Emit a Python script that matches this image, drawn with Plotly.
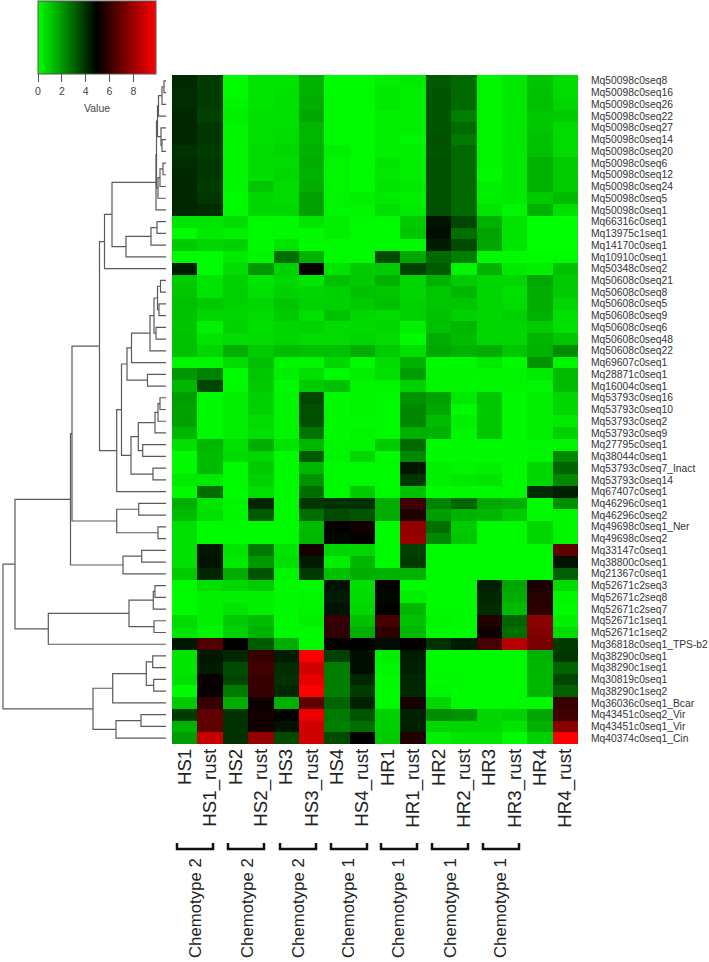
import plotly.graph_objects as go

W, H = 709, 962

columns = ["HS1","HS1_rust","HS2","HS2_rust","HS3","HS3_rust","HS4","HS4_rust",
           "HR1","HR1_rust","HR2","HR2_rust","HR3","HR3_rust","HR4","HR4_rust"]

genes = ["Mq50098c0seq8","Mq50098c0seq16","Mq50098c0seq26","Mq50098c0seq22","Mq50098c0seq27","Mq50098c0seq14",
         "Mq50098c0seq20","Mq50098c0seq6","Mq50098c0seq12","Mq50098c0seq24","Mq50098c0seq5","Mq50098c0seq1",
         "Mq66316c0seq1","Mq13975c1seq1","Mq14170c0seq1","Mq10910c0seq1","Mq50348c0seq2",
         "Mq50608c0seq21","Mq50608c0seq8","Mq50608c0seq5","Mq50608c0seq9","Mq50608c0seq6","Mq50608c0seq48","Mq50608c0seq22",
         "Mq69607c0seq1","Mq28871c0seq1","Mq16004c0seq1","Mq53793c0seq16","Mq53793c0seq10","Mq53793c0seq2","Mq53793c0seq9",
         "Mq27795c0seq1","Mq38044c0seq1","Mq53793c0seq7_Inact","Mq53793c0seq14","Mq67407c0seq1",
         "Mq46296c0seq1","Mq46296c0seq2","Mq49698c0seq1_Ner","Mq49698c0seq2",
         "Mq33147c0seq1","Mq38800c0seq1","Mq21367c0seq1",
         "Mq52671c2seq3","Mq52671c2seq8","Mq52671c2seq7","Mq52671c1seq1","Mq52671c1seq2",
         "Mq36818c0seq1_TPS-b2","Mq38290c0seq1","Mq38290c1seq1","Mq30819c0seq1","Mq38290c1seq2",
         "Mq36036c0seq1_Bcar","Mq43451c0seq2_Vir","Mq43451c0seq1_Vir","Mq40374c0seq1_Cin"]

values = [
 [4.2,3.8,0.1,0.5,0.5,1.5,0.1,0.1,0.3,0.4,3.2,2.9,0.2,0.4,1.1,0.7],
 [4.1,3.8,0.1,0.5,0.6,1.5,0.1,0.1,0.4,0.3,3.3,2.9,0.2,0.4,1.2,0.7],
 [4.1,3.8,0.2,0.5,0.6,1.6,0.1,0.1,0.4,0.3,3.3,2.9,0.2,0.4,1.2,0.8],
 [4.2,3.7,0.3,0.6,0.6,1.7,0.1,0.1,0.3,0.3,3.3,2.5,0.2,0.4,1.1,1.0],
 [4.2,3.9,0.2,0.6,0.6,1.4,0.1,0.1,0.3,0.3,3.3,2.9,0.2,0.4,1.1,0.7],
 [4.2,3.9,0.2,0.6,0.7,1.4,0.1,0.1,0.3,0.2,3.4,2.6,0.2,0.4,1.2,0.7],
 [4.0,3.8,0.2,0.7,0.8,1.5,0.3,0.1,0.3,0.3,3.3,2.9,0.2,0.4,1.2,0.7],
 [4.1,3.9,0.2,0.7,0.7,1.6,0.2,0.1,0.5,0.3,3.4,2.9,0.2,0.4,1.5,1.0],
 [4.2,3.9,0.2,0.6,0.8,1.5,0.2,0.1,0.4,0.3,3.4,2.9,0.1,0.4,1.5,1.0],
 [4.2,3.8,0.2,1.1,0.7,1.6,0.2,0.1,0.5,0.4,3.4,2.9,0.3,0.4,1.5,1.0],
 [4.2,3.9,0.1,0.8,0.7,1.8,0.2,0.3,0.4,0.3,3.4,2.9,0.3,0.4,1.0,1.3],
 [4.2,4.1,0.1,0.8,0.8,1.8,0.2,0.2,0.6,0.4,3.4,2.9,0.5,0.2,1.5,0.6],
 [0.5,0.5,0.7,0.1,0.1,0.5,0.3,0.1,0.1,1.0,4.6,3.6,1.5,0.5,0.0,0.0],
 [0.05,0.4,0.3,0.1,0.1,0.1,0.3,0.1,0.1,1.1,4.7,2.8,1.8,0.5,0.0,0.0],
 [1.0,0.8,0.9,0.1,0.5,0.1,0.1,0.1,0.1,0.1,4.4,3.5,1.7,0.5,0.0,0.0],
 [0.1,0.05,0.4,0.2,2.8,1.5,0.1,0.1,3.5,1.7,2.9,2.5,0.1,0.1,0.1,0.1],
 [4.4,0.05,0.7,2.0,0.9,5.0,0.5,1.0,1.0,3.7,3.2,0.2,1.5,0.4,0.3,1.2],
 [1.0,0.5,0.9,0.5,0.8,0.5,1.2,1.0,1.5,0.8,1.5,1.0,0.8,0.8,1.7,1.0],
 [1.1,0.5,0.9,0.6,0.9,0.8,0.9,1.2,1.1,0.8,1.1,1.4,0.8,0.6,1.6,1.0],
 [1.2,1.0,0.9,0.8,1.1,0.9,0.9,1.0,1.2,0.9,1.1,1.1,0.8,0.7,1.6,0.8],
 [1.2,0.8,0.8,0.7,1.0,0.6,1.2,0.8,0.7,0.9,1.2,0.9,0.8,0.9,1.5,0.6],
 [1.1,0.3,0.9,0.6,0.8,0.9,0.7,0.7,0.8,0.3,1.2,1.4,0.8,0.8,1.0,0.6],
 [1.2,0.5,0.7,0.7,0.8,0.7,0.7,0.8,0.7,0.1,1.6,1.3,0.8,0.8,1.4,1.1],
 [1.2,0.8,1.6,1.0,1.3,1.2,1.2,1.6,1.0,0.6,1.7,1.5,1.6,1.1,1.5,2.2],
 [0.2,0.2,0.7,1.2,0.2,0.2,0.8,0.1,0.7,1.5,0.1,0.1,0.4,0.1,2.1,0.2],
 [2.0,2.4,0.1,1.1,0.3,0.6,0.1,0.3,0.6,1.9,0.2,0.2,0.2,0.2,0.4,1.3],
 [1.4,3.6,0.1,1.0,0.1,1.0,1.2,0.2,0.2,0.9,0.2,0.2,0.2,0.2,0.2,1.3],
 [1.9,0.1,0.3,0.9,0.2,3.6,0.1,0.2,0.1,2.1,1.8,0.4,1.1,0.1,0.3,0.8],
 [1.8,0.1,0.3,0.9,0.2,3.4,0.1,0.2,0.1,2.3,1.7,0.1,1.1,0.1,0.3,0.8],
 [1.8,0.1,0.3,0.7,0.2,3.4,0.1,0.1,0.1,2.3,1.3,0.3,1.1,0.1,0.3,0.4],
 [1.4,0.1,0.3,0.6,0.2,2.7,0.1,0.2,0.1,1.5,1.5,0.2,1.1,0.1,0.3,0.9],
 [0.6,1.4,0.6,1.6,0.5,1.4,0.2,0.2,1.0,2.9,0.1,0.1,0.1,0.1,0.2,0.2],
 [0.1,1.3,0.7,0.8,0.1,3.2,0.2,0.8,0.1,2.3,0.1,0.1,0.1,0.1,0.2,2.3],
 [0.1,1.3,0.1,1.0,0.1,1.4,0.1,0.1,0.1,4.5,0.3,0.2,0.3,0.1,0.8,3.0],
 [0.4,0.4,0.1,0.9,0.1,2.1,0.1,0.1,0.1,3.9,0.3,0.4,0.5,0.1,0.8,2.3],
 [0.1,2.8,0.1,0.6,0.1,2.8,0.1,1.0,0.1,1.2,0.1,0.1,0.1,0.1,4.1,4.3],
 [1.6,0.5,0.2,4.2,0.1,3.9,4.0,4.0,1.6,6.2,2.4,3.0,1.7,1.6,0.1,2.2],
 [1.3,0.6,0.2,3.2,0.1,2.8,3.5,3.3,1.6,5.6,1.9,1.5,1.4,1.0,0.1,0.2],
 [0.6,0.1,0.1,0.1,0.1,1.3,5.0,5.3,0.1,7.8,2.8,1.0,0.1,0.1,0.8,0.2],
 [0.6,0.1,0.1,0.1,0.1,1.4,4.8,5.0,0.1,7.9,2.3,1.1,0.1,0.1,0.8,0.2],
 [0.6,4.5,0.5,2.6,0.5,5.4,0.8,0.8,0.1,3.7,0.1,0.1,0.1,0.1,0.1,6.8],
 [0.6,4.6,0.4,2.0,0.6,4.4,0.3,1.4,0.1,3.8,0.1,0.1,0.1,0.1,0.1,4.6],
 [1.0,4.2,1.6,3.3,0.2,3.8,1.2,1.6,1.5,1.5,0.1,0.1,0.1,0.1,0.1,3.1],
 [0.1,0.6,0.8,1.0,0.1,0.1,4.6,0.6,5.0,0.1,0.1,0.1,4.3,1.7,5.5,0.7],
 [0.1,0.3,0.3,0.3,0.1,0.2,4.4,0.7,4.8,0.3,0.1,0.1,4.2,1.6,5.7,0.2],
 [0.1,0.3,0.5,0.3,0.1,0.2,4.6,0.8,5.0,1.4,0.1,0.1,4.1,1.3,5.8,0.1],
 [0.7,0.3,1.0,1.3,0.1,0.3,6.0,1.2,6.3,1.2,0.2,0.1,5.6,3.0,7.6,0.3],
 [0.5,0.2,0.9,1.5,0.1,0.1,5.9,1.6,5.8,1.4,0.1,0.1,5.2,2.8,7.5,0.7],
 [4.5,6.5,5.0,3.2,1.6,0.1,5.0,5.0,4.7,5.0,4.0,4.4,6.3,8.5,7.3,3.8],
 [0.5,4.5,4.2,6.0,4.4,9.8,3.7,4.7,0.3,4.4,0.1,0.1,0.1,0.1,1.5,3.9],
 [0.5,4.4,3.5,6.2,4.1,9.0,2.5,4.7,0.2,4.3,0.1,0.1,0.1,0.1,1.4,3.0],
 [0.6,5.1,3.6,6.0,4.0,9.4,2.5,4.2,0.1,4.2,0.1,0.1,0.1,0.1,1.4,3.6],
 [0.1,5.1,2.6,6.0,4.2,9.9,2.5,3.8,0.1,4.2,0.2,0.1,0.1,0.1,1.4,3.1],
 [1.0,6.0,1.6,5.2,1.5,6.8,3.0,4.3,0.1,5.4,0.8,0.1,0.1,0.1,0.1,6.0],
 [3.8,6.8,4.0,5.3,4.9,9.5,2.6,3.3,0.9,4.3,2.2,2.1,0.8,0.9,1.7,6.2],
 [1.5,6.8,4.0,5.3,4.6,9.0,2.5,2.8,0.9,4.3,0.8,0.8,0.8,0.5,1.5,7.6],
 [1.9,8.8,4.0,7.8,3.5,9.0,3.5,5.0,1.0,5.6,0.3,0.5,0.5,0.1,0.9,9.8],
]

# Row dendrogram: leaves are rows 0..56; merge k creates node 57+k
merge_left = [0,57,58,5,4,59,7,63,64,62,66,12,68,69,67,71,
              17,19,73,21,75,77,78,25,79,27,82,83,31,84,33,86,81,89,72,
              36,38,92,91,40,96,95,43,99,46,100,102,98,49,51,105,107,54,109,108,104]
merge_right = [1,2,3,6,60,61,8,9,10,65,11,13,14,15,70,16,
               18,20,74,22,76,23,24,26,80,28,29,30,32,85,34,87,88,35,90,
               37,39,93,94,41,42,97,44,45,47,101,48,103,50,52,106,53,55,56,110,111]
merge_height = [2,4,7.5,4,5,8.5,3,6,8,9.5,10,9,15,40,54,61.5,
                5.5,7,8.5,10,12,16,34.5,18.5,39,6,8,11,23.3,27.7,13,35,44.5,49.3,66.5,
                27.3,8,49.3,94,24.3,43,95.5,11,12.7,12,37,117.7,151,13.3,12.3,19.7,53.3,25,50,73,163]

chemotypes = ["Chemotype 2","Chemotype 2","Chemotype 2","Chemotype 1","Chemotype 1","Chemotype 1","Chemotype 1"]

# ---- layout constants (pixels)
HM_L, HM_R, HM_T, HM_B = 172, 578, 75, 744
DEND_R = 166
BR_L = [177, 228, 280, 331, 381, 432, 483]
BR_R = [213, 264, 316, 367, 417, 468, 519]
CH_X = [195, 247, 298, 348, 398, 450, 500]
px = lambda v: v / W
py = lambda v: 1 - v / H

n = len(genes)
pos_y = {i: float(i) for i in range(n)}
pos_h = {i: 0.0 for i in range(n)}
dx, dy = [], []
for k, (a, b, h) in enumerate(zip(merge_left, merge_right, merge_height)):
    dx += [pos_h[a], h, h, pos_h[b], None]
    dy += [pos_y[a], pos_y[a], pos_y[b], pos_y[b], None]
    pos_y[n + k] = (pos_y[a] + pos_y[b]) / 2
    pos_h[n + k] = h

fig = go.Figure()
fig.add_trace(go.Heatmap(
    z=values, x=list(range(len(columns))), y=list(range(n)),
    zmin=0, zmax=9.9,
    colorscale=[[0, "rgb(0,255,0)"], [0.5, "rgb(0,0,0)"], [1, "rgb(255,0,0)"]],
    xgap=0, ygap=0,
    colorbar=dict(orientation="h", lenmode="pixels", len=118, thicknessmode="pixels", thickness=73,
                  x=px(38), xanchor="left", y=py(1), yanchor="top", xpad=0, ypad=0,
                  outlinecolor="#555555", outlinewidth=1, tickmode="array", tickvals=[0, 2, 4, 6, 8],
                  ticks="outside", ticklen=8, tickcolor="#555555", tickwidth=1,
                  tickfont=dict(family="Liberation Sans", size=10.5, color="#444444")),
))
fig.add_trace(go.Scatter(x=dx, y=dy, xaxis="x2", yaxis="y", mode="lines",
                         line=dict(color="#5a5a5a", width=1.2), hoverinfo="skip", showlegend=False))

shapes, annos = [], []
for l, r, cx, text in zip(BR_L, BR_R, CH_X, chemotypes):
    shapes.append(dict(type="path", xref="paper", yref="paper",
                       path=f"M {px(l)},{py(843)} L {px(l)},{py(849)} L {px(r)},{py(849)} L {px(r)},{py(843)}",
                       line=dict(color="#111111", width=2.5)))
    annos.append(dict(text=text, xref="paper", yref="paper", x=px(cx), y=py(908), textangle=-90,
                      xanchor="center", yanchor="middle", showarrow=False,
                      font=dict(family="Liberation Sans", size=16.8, color="#222222")))
annos.append(dict(text="Value", xref="paper", yref="paper", x=px(97), y=py(108), xanchor="center", yanchor="middle",
                  showarrow=False, font=dict(family="Liberation Sans", size=10.5, color="#444444")))

fig.update_layout(
    width=W, height=H, margin=dict(l=0, r=0, t=0, b=0), autosize=False,
    paper_bgcolor="white", plot_bgcolor="white", showlegend=False,
    shapes=shapes, annotations=annos,
    xaxis=dict(domain=[px(HM_L), px(HM_R)], anchor="y", range=[-0.5, 15.5], tickmode="array",
               tickvals=list(range(len(columns))), ticktext=columns, tickangle=-90, side="bottom",
               ticks="", showgrid=False, zeroline=False,
               tickfont=dict(family="Liberation Sans", size=18.7, color="#222222")),
    yaxis=dict(domain=[py(HM_B), py(HM_T)], anchor="x", range=[n - 0.5, -0.5], tickmode="array",
               tickvals=list(range(n)), ticktext=genes, side="right",
               ticks="outside", ticklen=10, tickcolor="rgba(0,0,0,0)", showgrid=False, zeroline=False,
               tickfont=dict(family="Liberation Sans", size=10.3, color="#333333")),
    xaxis2=dict(domain=[0, px(DEND_R)], anchor="y", range=[DEND_R, 0], visible=False, showgrid=False, zeroline=False),
)
fig.write_html("out.html", post_script="document.body.style.margin='0';document.documentElement.style.overflow='hidden';",
               config={"displayModeBar": False})
